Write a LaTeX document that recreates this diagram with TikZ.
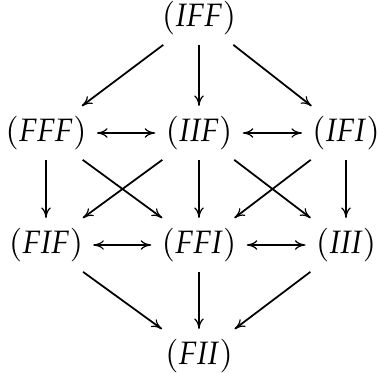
\documentclass[tikz,border=0pt]{standalone}
\usepackage{mathpazo}
\usetikzlibrary{arrows.meta}
\DeclareMathAlphabet{\mathpit}{OT1}{pplx}{m}{it}
\newcommand{\lbl}[1]{\fontsize{11}{13}\selectfont$(\mathpit{#1})$}
\begin{document}
\begin{tikzpicture}[x=0.34pt,y=-0.34pt,
  st/.style={inner sep=3.2pt},
  tip/.tip={To[length=3.6pt,width=3.2pt,line width=0.4pt]},
  ar/.style={-tip,semithick},
  dar/.style={tip-tip,semithick}]
\useasboundingbox (0,0) rectangle (377,373);
\node[st] (IFF) at (199,18) {\lbl{IFF}};
\node[st] (FFF) at (46,133) {\lbl{FFF}};
\node[st] (IIF) at (199,133) {\lbl{IIF}};
\node[st] (IFI) at (346,133) {\lbl{IFI}};
\node[st] (FIF) at (46,245) {\lbl{FIF}};
\node[st] (FFI) at (199,245) {\lbl{FFI}};
\node[st] (III) at (346,245) {\lbl{III}};
\node[st] (FII) at (199,356) {\lbl{FII}};
\draw[ar] (IFF) -- (FFF);
\draw[ar] (IFF) -- (IIF);
\draw[ar] (IFF) -- (IFI);
\draw[dar] (FFF) -- (IIF);
\draw[dar] (IIF) -- (IFI);
\draw[ar] (FFF) -- (FIF);
\draw[ar] (FFF) -- (FFI);
\draw[ar] (IIF) -- (FIF);
\draw[ar] (IIF) -- (FFI);
\draw[ar] (IIF) -- (III);
\draw[ar] (IFI) -- (FFI);
\draw[ar] (IFI) -- (III);
\draw[dar] (FIF) -- (FFI);
\draw[dar] (FFI) -- (III);
\draw[ar] (FIF) -- (FII);
\draw[ar] (FFI) -- (FII);
\draw[ar] (III) -- (FII);
\end{tikzpicture}
\end{document}
